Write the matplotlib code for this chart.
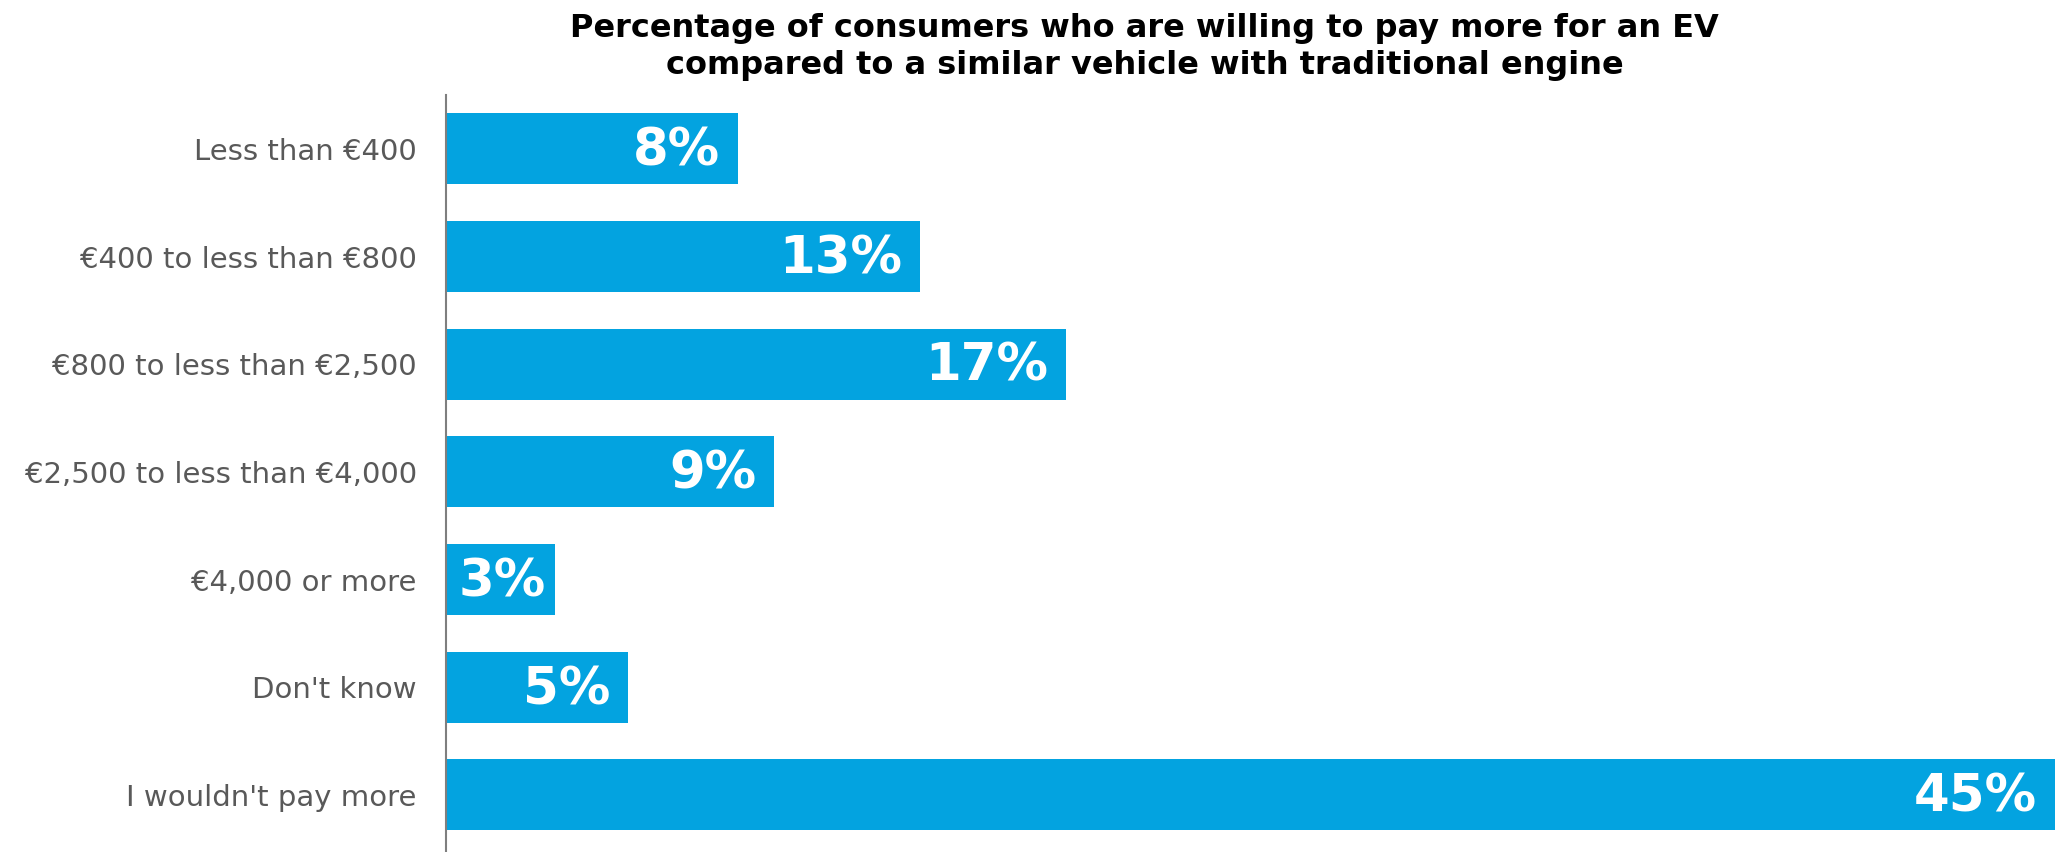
import matplotlib.pyplot as plt

categories = [
    "Less than €400",
    "€400 to less than €800",
    "€800 to less than €2,500",
    "€2,500 to less than €4,000",
    "€4,000 or more",
    "Don't know",
    "I wouldn't pay more",
]
shares = [8, 13, 17, 9, 3, 5, 45]

BAR_COLOR = "#03A3E0"
LABEL_GREY = "#595959"
XMAX = 44.1

plt.rcParams["font.family"] = ["DejaVu Sans"]

fig = plt.figure(figsize=(20.55, 8.52), dpi=100)
ax = fig.add_axes([0.217, 0.0, 0.783, 0.8885])

y = list(range(len(categories)))
ax.barh(y, shares, height=0.66, color=BAR_COLOR)

ax.set_ylim(len(categories) - 0.47, -0.5)
ax.set_xlim(0, XMAX)

ax.set_yticks(y)
ax.set_yticklabels(categories, fontsize=21, color=LABEL_GREY)
ax.tick_params(axis="y", length=0, pad=21)
ax.set_xticks([])

for side in ["top", "right", "bottom"]:
    ax.spines[side].set_visible(False)
ax.spines["left"].set_color("#7f7f7f")
ax.spines["left"].set_linewidth(1.5)

# value labels inside the bar ends; very short bars get them from the left
for yi, v in zip(y, shares):
    if v < 4:
        ax.annotate(f"{v}%", xy=(0, yi), xytext=(9, -2),
                    textcoords="offset points", ha="left", va="center",
                    fontsize=37, fontweight="bold", color="white")
    else:
        ax.annotate(f"{v}%", xy=(min(v, XMAX), yi), xytext=(-13, -2),
                    textcoords="offset points", ha="right", va="center",
                    fontsize=37, fontweight="bold", color="white")

fig.text(0.557, 0.985, "Percentage of consumers who are willing to pay more for an EV\n"
         "compared to a similar vehicle with traditional engine",
         ha="center", va="top", fontsize=23, fontweight="bold",
         linespacing=1.25)

fig.savefig("out.png", dpi=100)
